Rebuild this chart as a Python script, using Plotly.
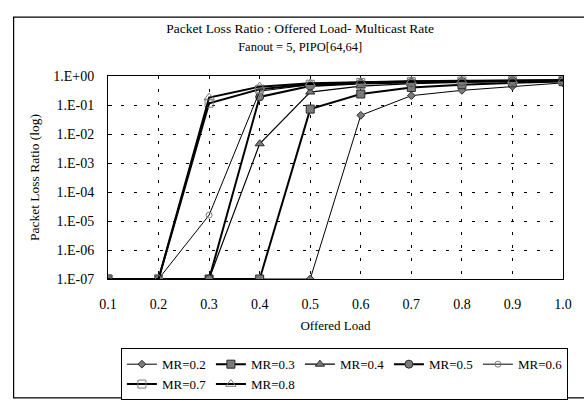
import plotly.graph_objects as go

offered_load = [0.1, 0.2, 0.3, 0.4, 0.5, 0.6, 0.7, 0.8, 0.9, 1.0]
mr_02 = [1e-7, 1e-7, 1e-7, 1e-7, 1e-7, 0.044, 0.21, 0.32, 0.44, 0.58]
mr_03 = [1e-7, 1e-7, 1e-7, 1e-7, 0.072, 0.24, 0.40, 0.50, 0.58, 0.64]
mr_04 = [1e-7, 1e-7, 1e-7, 0.0046, 0.28, 0.45, 0.55, 0.60, 0.64, 0.68]
mr_05 = [1e-7, 1e-7, 1e-7, 0.19, 0.45, 0.55, 0.60, 0.64, 0.67, 0.70]
mr_06 = [1e-7, 1e-7, 1.6e-5, 0.30, 0.50, 0.58, 0.62, 0.66, 0.68, 0.70]
mr_07 = [1e-7, 1e-7, 0.115, 0.35, 0.52, 0.60, 0.64, 0.67, 0.69, 0.71]
mr_08 = [1e-7, 1e-7, 0.18, 0.43, 0.56, 0.62, 0.66, 0.68, 0.70, 0.72]
series_names = ["MR=0.2", "MR=0.3", "MR=0.4", "MR=0.5", "MR=0.6", "MR=0.7", "MR=0.8"]
y_tickvals = [1e0, 1e-1, 1e-2, 1e-3, 1e-4, 1e-5, 1e-6, 1e-7]
y_ticktext = ["1.E+00", "1.E-01", "1.E-02", "1.E-03", "1.E-04", "1.E-05", "1.E-06", "1.E-07"]
x_tickvals = offered_load
x_ticktext = ["0.1", "0.2", "0.3", "0.4", "0.5", "0.6", "0.7", "0.8", "0.9", "1.0"]

styles = [
    dict(lw=1, sym="diamond", size=6),
    dict(lw=2, sym="square", size=8),
    dict(lw=1.2, sym="triangle-up", size=8),
    dict(lw=2, sym="circle", size=8),
    dict(lw=1, sym="circle-open", size=6),
    dict(lw=2, sym="square-open", size=8),
    dict(lw=2, sym="triangle-up-open", size=9),
]
all_series = [mr_02, mr_03, mr_04, mr_05, mr_06, mr_07, mr_08]

FONT = "Liberation Serif"
fig = go.Figure()
for name, ys, st in zip(series_names, all_series, styles):
    fig.add_trace(go.Scatter(
        x=offered_load, y=ys, name=name, mode="lines+markers",
        line=dict(color="black", width=st["lw"]),
        marker=dict(symbol=st["sym"], size=st["size"], color="#7a7a7a",
                    line=dict(color="#2a2a2a", width=1)),
    ))

L, R, T, B = 108, 18, 76, 119
W, H = 584, 412
pw, ph = W - L - R, H - T - B

def px_x(p):
    return (p - L) / pw

def px_y(p):
    return (H - B - p) / ph

fig.update_layout(
    width=W, height=H,
    margin=dict(l=L, r=R, t=T, b=B),
    paper_bgcolor="white", plot_bgcolor="white",
    font=dict(family=FONT, color="black", size=13),
    title=dict(
        text="Packet Loss Ratio : Offered Load- Multicast Rate<br><span style='font-size:12.5px'>Fanout = 5, PIPO[64,64]</span>",
        x=0.514, xanchor="center", xref="container",
        y=1 - 33 / H, yanchor="middle", yref="container",
        font=dict(family=FONT, size=13.5, color="black"),
    ),
    xaxis=dict(
        range=[0.1, 1.0], tickvals=x_tickvals, ticktext=x_ticktext,
        showgrid=True, gridcolor="black", griddash="3px,10px", gridwidth=1,
        showline=True, linecolor="black", linewidth=1, mirror=True,
        ticks="", tickfont=dict(family=FONT, size=14), ticklabelstandoff=12,
        title=dict(text="Offered Load", font=dict(family=FONT, size=13), standoff=10),
        zeroline=False,
    ),
    yaxis=dict(
        type="log", range=[-7, 0], tickvals=y_tickvals, ticktext=y_ticktext,
        showgrid=True, gridcolor="black", griddash="3px,10px", gridwidth=1,
        showline=True, linecolor="black", linewidth=1, mirror=True,
        ticks="inside", ticklen=4, tickcolor="black",
        tickfont=dict(family=FONT, size=14), ticklabelstandoff=10,
        title=dict(text="Packet Loss Ratio (log)", font=dict(family=FONT, size=13.5), standoff=10),
        zeroline=False,
    ),
    legend=dict(
        orientation="h", x=px_x(121), y=px_y(367), xanchor="left", yanchor="top",
        bordercolor="black", borderwidth=1, bgcolor="white",
        font=dict(family=FONT, size=13), entrywidth=44, entrywidthmode="pixels",
        tracegroupgap=0, itemwidth=30,
    ),
    shapes=[dict(type="rect", xref="paper", yref="paper",
                 x0=px_x(13), x1=px_x(592), y0=px_y(420), y1=px_y(13),
                 line=dict(color="black", width=1.2), fillcolor="rgba(0,0,0,0)", layer="below")],
)

fig.write_html(
    "out.html",
    config={"displayModeBar": False},
    post_script="document.body.style.margin='0';document.body.style.overflow='hidden';",
)
